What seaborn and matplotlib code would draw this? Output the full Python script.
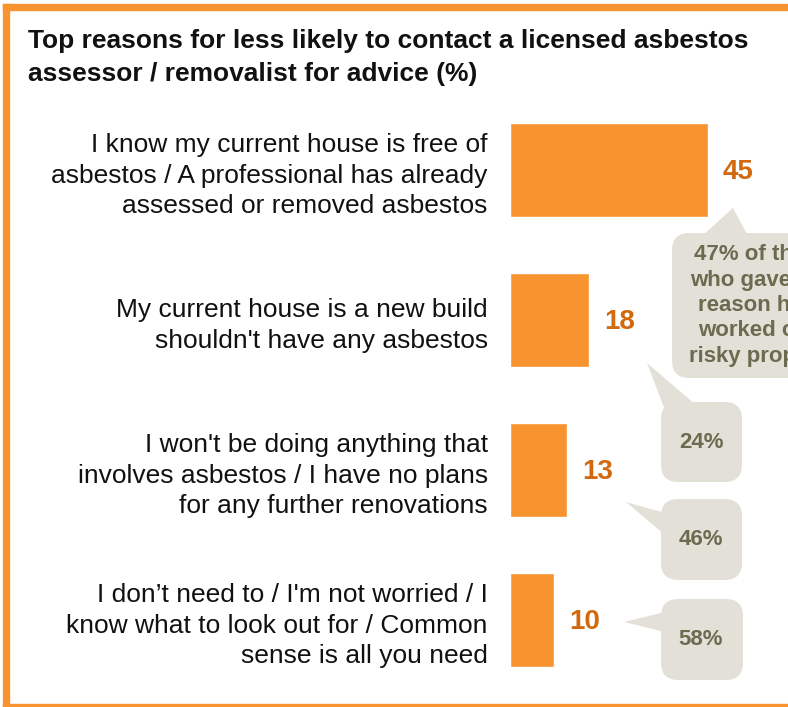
import matplotlib
matplotlib.use("Agg")
import matplotlib.pyplot as plt
import seaborn as sns
import pandas as pd
from matplotlib.patches import FancyBboxPatch, Polygon, Rectangle

# data
reasons = [
    "I know my current house is free of\nasbestos / A professional has already\nassessed or removed asbestos",
    "My current house is a new build\nshouldn't have any asbestos",
    "I won't be doing anything that\ninvolves asbestos / I have no plans\nfor any further renovations",
    "I don\u2019t need to / I'm not worried / I\nknow what to look out for / Common\nsense is all you need",
]
percent = [45, 18, 13, 10]
callout_text = [
    "47% of those\nwho gave this\nreason have\nworked on a\nrisky property",
    "24%",
    "46%",
    "58%",
]
title = ("Top reasons for less likely to contact a licensed asbestos\n"
         "assessor / removalist for advice (%)")

df = pd.DataFrame({"reason": reasons, "pct": percent})

sns.set_style("white")
plt.rcParams['font.family'] = ['Liberation Sans', 'DejaVu Sans']

W, H = 788, 707
fig = plt.figure(figsize=(W / 100, H / 100), dpi=100)

def px(x, y):
    # pixel (from top-left) -> figure fraction
    return x / W, 1 - y / H

orange = "#F7942F"
dark_orange = "#D2690F"
bubble = "#E2E0D7"
bubble_txt = "#6C6B50"

# axes placed so that 0 sits at x=510 px
ax = fig.add_axes([510 / W, (H - 695) / H, (W - 510) / W, 600 / H])
sns.barplot(data=df, x="pct", y="reason", color=orange, width=0.63,
            saturation=1, ax=ax, orient="h")
ax.set_xlim(0, (W - 510) / 4.4)
ax.set_ylim(3.5, -0.5)
ax.set_xlabel("")
ax.set_ylabel("")
ax.set_xticks([])
sns.despine(ax=ax, left=True, bottom=True)
ax.tick_params(axis="y", length=0, pad=16)
for lab in ax.get_yticklabels():
    lab.set_fontsize(19)
    lab.set_linespacing(1.32)
    lab.set_multialignment("right")
    lab.set_color("#111111")

for i, v in enumerate(percent):
    ax.annotate(str(v), xy=(v, i), xytext=(15, -2), textcoords="offset pixels",
                ha="left", va="center", fontsize=20, fontweight="bold",
                color=dark_orange)

# title
fig.text(28 / W, 1 - 29 / H, title, ha="left", va="top", fontsize=19,
         fontweight="bold", color="#111111", linespacing=1.45)

# border
fig.patches.append(Rectangle(px(3, 10), 1, 6 / H, transform=fig.transFigure,
                             color=orange, zorder=5))
fig.patches.append(Rectangle(px(3, 707), 6 / W, 703 / H, transform=fig.transFigure,
                             color=orange, zorder=5))
fig.patches.append(Rectangle(px(3, 707), 1, 3 / H, transform=fig.transFigure,
                             color=orange, zorder=5))

# speech bubbles: box (x0, y0, x1, y1) and tail polygon, pixel coords
boxes = [
    (672, 233, 850, 378),
    (661, 402, 742, 482),
    (661, 499, 742, 580),
    (661, 599, 743, 680),
]
tails = [
    [(702, 236), (733, 208), (748, 236)],
    [(665, 410), (647, 363), (696, 405)],
    [(665, 513), (626, 502), (665, 535)],
    [(665, 612), (624, 622), (665, 632)],
]
text_x = [763, 701, 701, 701]
for (x0, y0, x1, y1), tail, txt, tx in zip(boxes, tails, callout_text, text_x):
    fx0, fy1 = px(x0, y1)
    fx1, fy0 = px(x1, y0)
    fig.patches.append(FancyBboxPatch(
        (fx0, fy1), fx1 - fx0, fy0 - fy1,
        boxstyle="round,pad=0,rounding_size=0.022", mutation_aspect=W / H,
        transform=fig.transFigure, facecolor=bubble, edgecolor="none", zorder=3))
    fig.patches.append(Polygon([px(a, b) for a, b in tail], closed=True,
                               transform=fig.transFigure, facecolor=bubble,
                               edgecolor="none", zorder=3))
    cx, cy = px(tx, (y0 + y1) / 2)
    fig.text(cx, cy, txt, ha="center", va="center", fontsize=16,
             fontweight="bold", color=bubble_txt, linespacing=1.28, zorder=4)

fig.savefig("out.png", dpi=100)
